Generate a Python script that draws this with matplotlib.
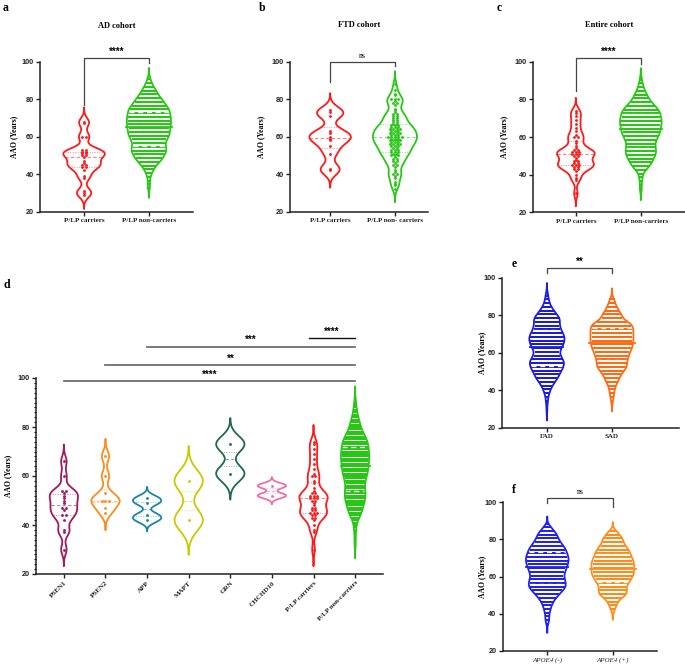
import numpy as np
import matplotlib
matplotlib.use("Agg")
import matplotlib.pyplot as plt
from matplotlib import mlab
from matplotlib.path import Path
from matplotlib.ticker import MultipleLocator

SERIF = "Liberation Serif"
SANS = "Liberation Sans"
W, H = 685, 664

# ---------------- data (AAO in years) ----------------
# a: AD cohort
AD_CARRIERS = [29, 30, 31, 38, 39, 42, 44, 44, 45, 45, 46, 47, 49, 50, 50, 51, 51,
               52, 52, 53, 53, 60, 60, 67, 68]
AD_NON_START = 32
AD_NON_COUNTS = [1, 1, 1, 1, 1, 1, 1, 2, 2, 3,
                 4, 5, 6, 7, 9, 11, 12, 13, 14, 15,
                 16, 16, 16, 15, 15, 15, 16, 17, 18, 19,
                 19, 19, 19, 20, 20, 20, 20, 20, 20, 20,
                 19, 19, 19, 18, 17, 15, 14, 13, 12, 10,
                 9, 8, 7, 6, 5, 4, 3, 2, 2, 1,
                 1]

# b: FTD cohort
FTD_CARRIERS = [42, 43, 51, 55, 58, 59, 60, 62, 63, 71, 73, 74]
FTD_NON_START = 32
FTD_NON_COUNTS = [1, 0, 1, 1, 1, 0, 1, 1, 2, 1,
                  1, 0, 1, 2, 1, 2, 2, 1, 3, 2,
                  3, 3, 2, 3, 4, 3, 4, 3, 5, 3,
                  4, 3, 4, 3, 3, 2, 2, 2, 2, 2,
                  2, 1, 1, 1, 0, 1, 2, 1, 3, 0,
                  1, 1, 0, 1, 0, 0, 1]

# c / d: entire cohort
ALL_CARRIERS = [30, 37, 38, 40, 42, 43, 43, 44, 44, 45, 45, 45, 46, 46, 47, 47, 48,
                49, 50, 50, 51, 51, 51, 52, 52, 52, 53, 53, 54, 55, 57, 58, 60, 60,
                61, 63, 65, 67, 69, 71, 73, 74]
ALL_NON_START = 31
ALL_NON_COUNTS = [1, 1, 1, 1, 1, 1, 1, 2, 2, 2,
                  3, 4, 7, 8, 10, 11, 12, 13, 14, 15,
                  16, 16, 16, 16, 15, 15, 15, 16, 17, 18,
                  19, 20, 20, 21, 21, 21, 22, 22, 22, 21,
                  21, 21, 20, 19, 18, 16, 14, 12, 10, 9,
                  8, 7, 6, 5, 4, 3, 3, 2, 2, 1,
                  1, 1]

# d: genes
PSEN1 = [30, 37, 38, 42, 44, 44, 46, 47, 47, 49, 50, 51, 52, 53, 54, 54, 60, 66]
PSEN2 = [45, 47, 50, 50, 50, 53, 60, 68]
APP = [42, 44, 49, 51]
MAPT = [42, 58]
GRN = [61, 73]
CHCHD10 = [52, 56]
D_LABELS = ["PSEN1", "PSEN2", "APP", "MAPT", "GRN", "CHCHD10", "P/LP carriers",
            "P/LP non-carriers"]

# e: FAD / SAD
FAD_START = 29
FAD_COUNTS = [1, 0, 0, 1, 0, 1, 1, 1, 1, 2,
              2, 3, 3, 4, 5, 6, 7, 8, 9, 10,
              10, 11, 12, 13, 13, 14, 14, 13, 12, 11,
              10, 10, 10, 11, 12, 13, 13, 14, 14, 14,
              14, 13, 12, 11, 11, 10, 10, 10, 10, 11,
              10, 8, 7, 6, 5, 4, 3, 2, 2, 2,
              1, 1, 1, 1]
SAD_START = 33
SAD_COUNTS = [1, 1, 1, 2, 2, 2, 3, 3, 3, 4,
              5, 6, 7, 8, 9, 10, 11, 13, 15, 16,
              17, 17, 17, 17, 18, 19, 19, 20, 21, 22,
              23, 23, 24, 24, 24, 24, 24, 24, 24, 24,
              24, 23, 23, 20, 15, 12, 12, 11, 10, 8,
              7, 6, 5, 4, 3, 3, 2, 1]

# f: APOE4
APOE_NEG_START = 34
APOE_NEG_COUNTS = [1, 1, 2, 2, 2, 2, 2, 3, 3, 4,
                   4, 5, 6, 7, 8, 10, 12, 13, 15, 17,
                   19, 19, 19, 19, 18, 18, 17, 17, 18, 19,
                   19, 20, 21, 21, 22, 22, 22, 21, 21, 20,
                   19, 19, 17, 16, 14, 13, 12, 11, 10, 10,
                   8, 6, 5, 3, 2]
APOE_POS_START = 41
APOE_POS_COUNTS = [1, 1, 2, 2, 3, 3, 4, 5, 7, 9,
                   9, 10, 9, 9, 9, 10, 11, 12, 12, 13,
                   14, 14, 14, 14, 14, 14, 14, 14, 13, 13,
                   12, 12, 11, 11, 10, 9, 8, 7, 7, 7,
                   6, 5, 4, 3, 2]

RED = "#ff1a1a"
GREEN = "#27c814"


def expand(start, counts):
    return np.repeat(np.arange(start, start + len(counts)), counts)


def kde_stats(vals, cut=3.2):
    vals = np.asarray(vals, float)
    n = len(vals)
    kde = mlab.GaussianKDE(vals, bw_method=0.45 * n ** -0.2)
    bw = kde.factor * vals.std(ddof=1)
    coords = np.linspace(vals.min() - cut * bw, vals.max() + cut * bw, 500)
    return dict(coords=coords, vals=kde.evaluate(coords), mean=vals.mean(),
                median=np.median(vals), min=vals.min(), max=vals.max(),
                quantiles=np.array([]))


def px_per_unit(ax):
    pos = ax.get_position()
    x0, x1 = ax.get_xlim()
    return pos.width * W / (x1 - x0), pos.height * H / 80.0


def row_marker(w_px, h_px):
    a = min(h_px / (2.0 * w_px), 0.49)
    return Path([(-0.5, -a), (0.5, -a), (0.5, a), (-0.5, a), (-0.5, -a)],
                [Path.MOVETO, Path.LINETO, Path.LINETO, Path.LINETO, Path.CLOSEPOLY])


def draw_violins(ax, groups, colors, widths, dotted=None):
    ppu, ypu = px_per_unit(ax)
    dotted = dotted or [False] * len(groups)
    for i, (vals, col, w) in enumerate(zip(groups, colors, widths)):
        vals = np.asarray(vals, float)
        st = kde_stats(vals)
        parts = ax.violin([st], positions=[i], widths=w, showmeans=False,
                          showextrema=False, showmedians=False)
        body = parts["bodies"][0]
        body.set_facecolor("none")
        body.set_edgecolor(col)
        body.set_alpha(1)
        body.set_linewidth(1.3)
        body.set_zorder(4)
        vmax = st["vals"].max()

        def half(y):
            return 0.5 * w * np.interp(y, st["coords"], st["vals"]) / vmax

        dense = len(vals) > 200
        if dense:
            # beeswarm rows are spaced by roughly the dot size (~3 px)
            step = max(1, int(round(3.0 / ypu)))
            ys, cnt = np.unique(np.floor(vals / step) * step + (step - 1) / 2.0,
                                return_counts=True)
            dx = 0.92 * w / (len(vals) * vmax * step)
            wpx = dx * ppu * (0.6 if dotted[i] else 1.12)
            hpx = min(2.3, 0.6 * step * ypu)
            marker = row_marker(wpx, hpx)
            size = (max(wpx, hpx) * 0.72) ** 2
        else:
            ys, cnt = np.unique(np.round(vals), return_counts=True)
            dx = 3.5 / ppu
            marker = "o"
            size = 4.2
        xs, yy = [], []
        for y, c in zip(ys, cnt):
            xs.extend(i + (np.arange(c) - (c - 1) / 2.0) * dx)
            yy.extend([y] * c)
        ax.scatter(xs, yy, s=size, marker=marker, color=col, linewidths=0, zorder=2)

        q1, med, q3 = np.percentile(vals, [25, 50, 75])
        if dense:
            h = half(med) * 1.08
            ax.plot([i - h, i + h], [med, med], color=col, lw=1.3, zorder=5)
            for q in (q1, q3):
                h = half(q) * 0.95
                ax.plot([i - h, i + h], [q, q], color="white", lw=0.9,
                        ls=(0, (4, 3)), zorder=3)
        else:
            h = half(med)
            ax.plot([i - h, i + h], [med, med], color=col, lw=0.8, alpha=0.55,
                    ls=(0, (3, 2)), zorder=3)
            for q in (q1, q3):
                h = half(q)
                ax.plot([i - h, i + h], [q, q], color=col, lw=0.7, alpha=0.5,
                        ls=(0, (1, 1.5)), zorder=3)


def style(ax, labels, ylab_x, rotate=False, italic=False, minor=False):
    ax.set_ylim(20, 100)
    ax.set_yticks([20, 40, 60, 80, 100])
    for s in ("top", "right"):
        ax.spines[s].set_visible(False)
    for s in ("left", "bottom"):
        ax.spines[s].set_linewidth(1.1)
        ax.spines[s].set_color("#222222")
    ax.tick_params(width=1, length=3, labelsize=5.2, pad=1.5, colors="#222222")
    if minor:
        ax.yaxis.set_minor_locator(MultipleLocator(2))
        ax.tick_params(axis="y", which="minor", length=1.8, width=0.8)
    for lab in ax.get_yticklabels():
        lab.set_fontfamily(SANS)
        lab.set_fontweight("bold")
    ax.set_xticks(range(len(labels)))
    if rotate:
        ax.set_xticklabels(labels, fontfamily=SERIF, fontweight="bold", fontsize=5,
                           rotation=45, ha="right", rotation_mode="anchor")
    else:
        ax.set_xticklabels(labels, fontfamily=SERIF,
                           fontweight="normal" if italic else "bold",
                           fontstyle="italic" if italic else "normal", fontsize=5)
    ax.set_ylabel("AAO (Years)", fontfamily=SERIF, fontweight="bold", fontsize=5.5)
    ax.yaxis.set_label_coords(ylab_x, 0.5)


def bracket(ax, x0, x1, y0, y1, ytop, text, ytext, serif_text=False):
    ax.plot([x0, x0, x1, x1], [y0, ytop, ytop, y1], color="#444444", lw=0.9,
            clip_on=False)
    if serif_text:
        ax.text((x0 + x1) / 2, ytext, text, ha="center", va="center",
                fontfamily=SERIF, fontsize=5.5, clip_on=False)
    else:
        ax.text((x0 + x1) / 2, ytext, text, ha="center", va="center",
                fontfamily=SANS, fontweight="bold", fontsize=7, clip_on=False)


def add_axes(l, r, top, bottom):
    return fig.add_axes([l / W, 1 - bottom / H, (r - l) / W, (bottom - top) / H])


fig = plt.figure(figsize=(W / 100, H / 100), dpi=100)
fig.patch.set_facecolor("white")

# a
ax = add_axes(40, 193, 61.5, 211.7)
ax.set_xlim(-0.68, 1.68)
draw_violins(ax, [AD_CARRIERS, expand(AD_NON_START, AD_NON_COUNTS)],
             [RED, GREEN], [0.64, 0.68])
style(ax, ["P/LP carriers", "P/LP non-carriers"], -0.145)
ax.set_title("AD cohort", fontfamily=SERIF, fontweight="bold", fontsize=6, pad=24)
bracket(ax, 0, 1, 77, 99, 101.8, "****", 105)

# b
ax = add_axes(290, 428, 61.7, 211.7)
ax.set_xlim(-0.62, 1.51)
draw_violins(ax, [FTD_CARRIERS, expand(FTD_NON_START, FTD_NON_COUNTS)],
             [RED, GREEN], [0.64, 0.68])
style(ax, ["P/LP carriers", "P/LP non- carriers"], -0.18)
ax.set_title("FTD cohort", fontfamily=SERIF, fontweight="bold", fontsize=6, pad=25)
bracket(ax, 0, 1, 89.4, 97.5, 99.8, "ns", 103.2, serif_text=True)

# c
ax = add_axes(533, 685, 61.7, 212.3)
ax.set_xlim(-0.66, 1.68)
draw_violins(ax, [ALL_CARRIERS, expand(ALL_NON_START, ALL_NON_COUNTS)],
             [RED, GREEN], [0.58, 0.64])
style(ax, ["P/LP carriers", "P/LP non-carriers"], -0.165)
ax.set_title("Entire cohort", fontfamily=SERIF, fontweight="bold", fontsize=6, pad=25)
bracket(ax, 0, 1, 84.7, 99, 101.8, "****", 105)

# d
ax = add_axes(36, 383, 378, 574)
ax.set_xlim(-0.67, 7.67)
d_groups = [PSEN1, PSEN2, APP, MAPT, GRN, CHCHD10, ALL_CARRIERS,
            expand(ALL_NON_START, ALL_NON_COUNTS)]
d_colors = ["#a3195b", "#ff8a1c", "#1a86a3", "#c9c900", "#1d6b48", "#f06fa2", RED, GREEN]
draw_violins(ax, d_groups, d_colors, [0.68] * 8)
style(ax, D_LABELS, -0.068, rotate=True, minor=True)
for x0, x1, y, txt, col, lw in [(0, 7, 98.6, "****", "#707070", 1.3),
                                (1, 7, 105.3, "**", "#707070", 1.3),
                                (2, 7, 112.8, "***", "#707070", 1.3),
                                (5.88, 7, 116.2, "****", "#111111", 1.0)]:
    ax.plot([x0, x1], [y, y], color=col, lw=lw, clip_on=False, zorder=6)
    ax.text((x0 + x1) / 2, y + 2.6, txt, ha="center", va="center", fontfamily=SANS,
            fontweight="bold", fontsize=7, clip_on=False)

# e
ax = add_axes(502, 679, 277.7, 427.7)
ax.set_xlim(-0.69, 2.03)
draw_violins(ax, [expand(FAD_START, FAD_COUNTS), expand(SAD_START, SAD_COUNTS)],
             ["#1c1ce0", "#ff6a12"], [0.54, 0.66], dotted=[True, False])
style(ax, ["FAD", "SAD"], -0.09)
bracket(ax, 0, 1, 102.3, 102.3, 105.2, "**", 108.6)

# f
ax = add_axes(502.7, 656.7, 502.3, 650.7)
ax.set_xlim(-0.68, 1.67)
draw_violins(ax, [expand(APOE_NEG_START, APOE_NEG_COUNTS),
                  expand(APOE_POS_START, APOE_POS_COUNTS)],
             ["#2222f0", "#ff8c1a"], [0.65, 0.65])
style(ax, ["APOE4 (-)", "APOE4 (+)"], -0.108, italic=True)
bracket(ax, 0, 1, 99.5, 97.6, 102.2, "ns", 105.8, serif_text=True)

# panel letters
for letter, x, y in [("a", 3, 8), ("b", 259, 8), ("c", 497, 8), ("d", 3, 285),
                     ("e", 512, 264), ("f", 512, 490)]:
    fig.text(x / W, 1 - y / H, letter, fontfamily=SERIF, fontweight="bold",
             fontsize=8.5, ha="left", va="center")

fig.savefig("out.png", dpi=100, facecolor="white")
